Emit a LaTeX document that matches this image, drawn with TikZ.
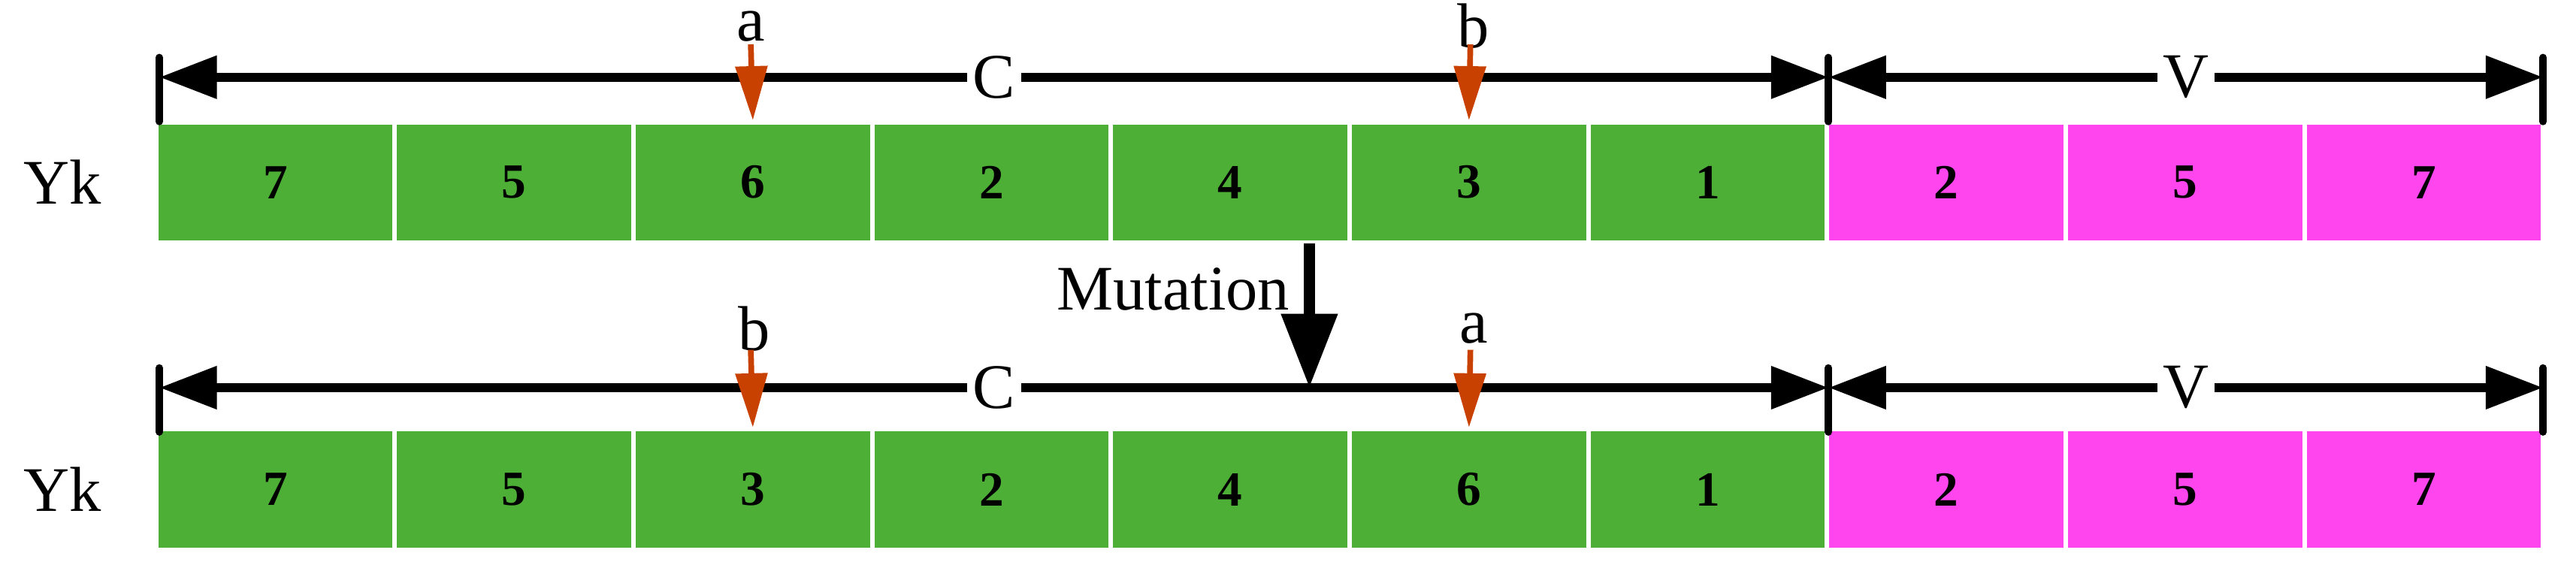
\documentclass[tikz,border=0pt]{standalone}
\usepackage{fontspec}
\setmainfont{Liberation Serif}
\usetikzlibrary{arrows.meta}
\definecolor{cgreen}{RGB}{77,175,54}
\definecolor{cpink}{RGB}{255,69,237}
\definecolor{cred}{RGB}{200,65,0}

\begin{document}
\begin{tikzpicture}[x=0.02cm, y=-0.02cm, line join=bevel]
	\tikzstyle{cell} = [draw=white, line width=0.05cm, minimum width=2.9cm, minimum height=1.46cm, inner sep=0pt, font=\fontsize{17}{17}\selectfont\bfseries];
	\tikzstyle{dim} = [line width=0.11cm, {Triangle[length=0.7cm, width=0.5cm]}-{Triangle[length=0.7cm, width=0.5cm]}];
	\tikzstyle{tick} = [line width=0.09cm, line cap=round];
	\tikzstyle{swapmark} = [draw=cred, line width=0.07cm, -{Triangle[length=0.66cm, width=0.38cm]}];
	\tikzstyle{lbl} = [font=\fontsize{22}{22}\selectfont, inner sep=1pt];

	\useasboundingbox (0,0) rectangle (1568,349);

	% rows of cells
	\foreach \row/\y/\vals in {1/111/{7,5,6,2,4,3,1,2,5,7}, 2/298/{7,5,3,2,4,6,1,2,5,7}} {
		\foreach \v [count=\i] in \vals {
			\ifnum\i<8 \def\fc{cgreen}\else \def\fc{cpink}\fi
			\node[cell, fill=\fc] (r\row c\i) at ({95+72.65+145.3*(\i-1)},\y) {\v};
		}
		\node[lbl] (yk\row) at (38,\y) {Yk};
	}

	% dimension lines
	\foreach \row/\y in {1/47, 2/236} {
		\coordinate (l\row) at (97,\y);
		\coordinate (m\row) at (1113,\y);
		\coordinate (e\row) at (1548,\y);
		\draw[tick] (97,\y-12) -- (97,\y+27);
		\draw[tick] (1113,\y-12) -- (1113,\y+27);
		\draw[tick] (1548,\y-12) -- (1548,\y+27);
		\draw[dim] (l\row) -- node[lbl, fill=white, inner xsep=2pt] {C} (m\row);
		\draw[dim] (m\row) -- node[lbl, fill=white, inner xsep=2pt] {V} (e\row);
	}

	% swapped positions
	\node[lbl] (a1) at (457,16) {a};
	\node[lbl] (b1) at (897,16) {b};
	\node[lbl] (b2) at (459,200) {b};
	\node[lbl] (a2) at (897,200) {a};
	\draw[swapmark] (457,27) -- (r1c3.north);
	\draw[swapmark] (895,27) -- (r1c6.north);
	\draw[swapmark] (457,213) -- (r2c3.north);
	\draw[swapmark] (895,213) -- (r2c6.north);

	% mutation
	\coordinate (mt) at (797,236);
	\draw[line width=0.13cm, -{Triangle[length=0.9cm, width=0.66cm]}] (797,148) -- (mt);
	\node[lbl, anchor=east] (mut) at (787,176) {Mutation};
\end{tikzpicture}
\end{document}
